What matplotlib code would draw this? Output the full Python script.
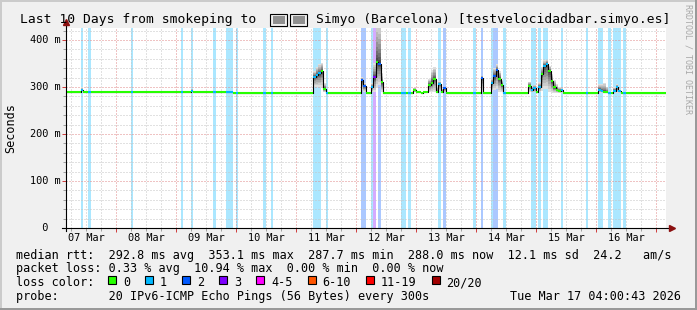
import numpy as np
import matplotlib
matplotlib.use('Agg')
import matplotlib.pyplot as plt
import matplotlib.dates as mdates
from matplotlib.patches import Rectangle

# hourly values, 240 hours starting Mar 07 04:00, one row per day
median_ms = [
    289, 289, 289, 289, 289, 289, 293, 289, 289, 289, 289, 289, 289, 289, 289, 289, 289, 289, 289, 289, 289, 289, 289, 289,
    289, 289, 289, 289, 289, 289, 289, 289, 289, 289, 289, 289, 289, 289, 289, 289, 289, 289, 289, 289, 289, 289, 289, 289,
    289, 289, 292, 289, 289, 289, 289, 289, 289, 289, 289, 289, 289, 289, 289, 289, 289, 289, 289, 288, 288, 288, 288, 288,
    288, 288, 288, 288, 288, 288, 288, 288, 288, 288, 288, 288, 288, 288, 288, 288, 288, 288, 288, 288, 288, 288, 288, 288,
    288, 288, 288, 322, 326, 329, 334, 296, 288, 288, 288, 288, 288, 288, 288, 288, 288, 288, 288, 288, 288, 288, 315, 302,
    288, 288, 300, 321, 353, 349, 310, 288, 288, 288, 288, 288, 288, 288, 288, 288, 288, 288, 288, 294, 289, 290, 288, 289,
    290, 305, 309, 318, 290, 307, 290, 297, 288, 288, 288, 288, 288, 288, 288, 288, 288, 288, 288, 288, 288, 288, 320, 288,
    288, 288, 308, 323, 336, 318, 305, 288, 288, 288, 288, 288, 288, 288, 288, 288, 288, 303, 294, 297, 289, 300, 327, 345,
    350, 333, 312, 299, 294, 292, 293, 288, 288, 288, 288, 288, 288, 288, 288, 288, 288, 288, 288, 288, 288, 294, 291, 290,
    289, 288, 288, 292, 300, 291, 288, 288, 288, 288, 288, 288, 288, 288, 288, 288, 288, 288, 288, 288, 288, 288, 288, 288,
]

# average lost pings (of 20) per hour
loss_pings = [
    0, 0, 0, 0, 0, 0, 0.17, 0, 0, 0.08, 0, 0, 0, 0, 0, 0, 0, 0, 0, 0, 0, 0, 0, 0,
    0, 0, 0.08, 0, 0, 0, 0, 0, 0, 0, 0, 0, 0, 0, 0, 0, 0, 0, 0, 0, 0, 0, 0.08, 0,
    0, 0, 0.17, 0, 0, 0, 0, 0, 0, 0, 0, 0.08, 0, 0, 0, 0, 0.25, 0.33, 0.17, 0, 0.08, 0, 0, 0,
    0, 0, 0, 0, 0, 0, 0, 0.08, 0, 0, 0.08, 0, 0, 0, 0, 0, 0, 0, 0, 0, 0, 0, 0, 0,
    0, 0, 0, 0.17, 0.25, 0.17, 0, 0, 0.08, 0, 0, 0, 0, 0, 0, 0, 0, 0, 0, 0, 0, 0, 1.17, 1.08,
    0, 0, 0.25, 2.19, 0, 1.33, 0, 0, 0, 0, 0, 0, 0, 0, 0.17, 0.08, 0, 0.08, 0, 0, 0, 0, 0, 0,
    0, 0, 0, 0, 0, 0.17, 0, 1.08, 0, 0, 0, 0, 0, 0, 0, 0, 0, 0, 0, 0.08, 0, 0, 1.17, 0,
    0, 0, 0.25, 1.25, 1.17, 0, 0, 0.08, 0, 0, 0, 0, 0, 0, 0, 0, 0, 0, 0.17, 0.08, 0, 0.17, 0, 0.25,
    0.17, 0, 0, 0, 0, 0, 0.08, 0, 0, 0, 0, 0, 0, 0, 0, 0, 0.08, 0, 0, 0, 0, 0.17, 0.08, 0,
    0, 0.08, 0, 0.17, 0.25, 0.08, 0, 0.08, 0, 0, 0, 0, 0, 0, 0, 0, 0, 0, 0, 0, 0, 0, 0, 0,
]

# spread of the pings above / below the median (ms)
smoke_up = [
    2, 2, 2, 2, 2, 2, 6, 2, 2, 2, 2, 2, 2, 2, 2, 2, 2, 2, 2, 2, 2, 2, 2, 2,
    2, 2, 2, 2, 2, 2, 2, 2, 2, 2, 2, 2, 2, 2, 2, 2, 2, 2, 2, 2, 2, 2, 2, 2,
    2, 2, 4, 2, 2, 2, 2, 2, 2, 2, 2, 2, 2, 2, 2, 2, 2, 2, 2, 2, 2, 2, 2, 2,
    2, 2, 2, 2, 2, 2, 2, 2, 2, 2, 2, 2, 2, 2, 2, 2, 2, 2, 2, 2, 2, 2, 2, 2,
    2, 2, 2, 12, 16, 20, 18, 12, 2, 2, 2, 2, 2, 2, 2, 2, 2, 2, 2, 2, 2, 2, 6, 6,
    2, 2, 8, 30, 90, 90, 20, 2, 2, 2, 2, 2, 2, 2, 2, 2, 2, 2, 2, 4, 2, 2, 2, 2,
    2, 12, 28, 24, 10, 5, 6, 4, 2, 2, 2, 2, 2, 2, 2, 2, 2, 2, 2, 2, 2, 2, 4, 2,
    2, 2, 10, 18, 13, 15, 10, 2, 2, 2, 2, 2, 2, 2, 2, 2, 2, 8, 8, 8, 2, 10, 15, 12,
    8, 12, 15, 15, 12, 8, 5, 2, 2, 2, 2, 2, 2, 2, 2, 2, 2, 2, 2, 2, 2, 12, 16, 18,
    12, 2, 2, 8, 6, 4, 2, 2, 2, 2, 2, 2, 2, 2, 2, 2, 2, 2, 2, 2, 2, 2, 2, 2,
]
smoke_dn = [
    1, 1, 1, 1, 1, 1, 3, 1, 1, 1, 1, 1, 1, 1, 1, 1, 1, 1, 1, 1, 1, 1, 1, 1,
    1, 1, 1, 1, 1, 1, 1, 1, 1, 1, 1, 1, 1, 1, 1, 1, 1, 1, 1, 1, 1, 1, 1, 1,
    1, 1, 2, 1, 1, 1, 1, 1, 1, 1, 1, 1, 1, 1, 1, 1, 1, 1, 1, 1, 1, 1, 1, 1,
    1, 1, 1, 1, 1, 1, 1, 1, 1, 1, 1, 1, 1, 1, 1, 1, 1, 1, 1, 1, 1, 1, 1, 1,
    1, 1, 1, 22, 26, 30, 34, 7, 1, 1, 1, 1, 1, 1, 1, 1, 1, 1, 1, 1, 1, 1, 22, 12,
    1, 1, 11, 32, 55, 45, 20, 1, 1, 1, 1, 1, 1, 1, 1, 1, 1, 1, 1, 5, 1, 1, 1, 1,
    1, 16, 20, 28, 2, 16, 2, 8, 1, 1, 1, 1, 1, 1, 1, 1, 1, 1, 1, 1, 1, 1, 30, 1,
    1, 1, 18, 30, 40, 28, 16, 1, 1, 1, 1, 1, 1, 1, 1, 1, 1, 14, 5, 8, 1, 11, 35, 50,
    55, 44, 24, 11, 6, 4, 5, 1, 1, 1, 1, 1, 1, 1, 1, 1, 1, 1, 1, 1, 1, 6, 3, 2,
    1, 1, 1, 4, 12, 3, 1, 1, 1, 1, 1, 1, 1, 1, 1, 1, 1, 1, 1, 1, 1, 1, 1, 1,
]

day_labels = ['07 Mar', '08 Mar', '09 Mar', '10 Mar', '11 Mar',
              '12 Mar', '13 Mar', '14 Mar', '15 Mar', '16 Mar']
y_vals = [0, 100, 200, 300, 400]
y_labels = ['  0', '100 m', '200 m', '300 m', '400 m']

loss_names = ['0', '1', '2', '3', '4-5', '6-10', '11-19', '20/20']
loss_colors = ['#26ff00', '#00b8ff', '#0059ff', '#7e00ff',
               '#ff00ff', '#ff5500', '#ff0000', '#a10000']
loss_upper = [0, 1, 2, 3, 5, 10, 19, 20]

# the flag between the two parts has no glyph in any installed font
title_left = 'Last 10 Days from smokeping to'
title_right = 'Simyo (Barcelona) [testvelocidadbar.simyo.es]'
row_rtt = ('median rtt:  292.8 ms avg  353.1 ms max  287.7 ms min  '
           '288.0 ms now  12.1 ms sd  24.2   am/s')
row_loss = 'packet loss: 0.33 % avg  10.94 % max  0.00 % min  0.00 % now'
row_probe = 'probe:       20 IPv6-ICMP Echo Pings (56 Bytes) every 300s'
stamp = 'Tue Mar 17 04:00:43 2026'

W, H = 697, 310
plt.rcParams['font.family'] = 'DejaVu Sans Mono'

med = np.array(median_ms, float)
loss = np.array(loss_pings, float)
up = np.array(smoke_up, float)
dn = np.array(smoke_dn, float)
cls = np.searchsorted(loss_upper, loss)

t = np.datetime64('2026-03-07T04:00') + np.arange(len(med) + 1) * np.timedelta64(1, 'h')
tn = mdates.date2num(t)


def ext(a):
    return np.append(a, a[-1])


def px(x, y):
    return x / W, 1 - y / H


fig = plt.figure(figsize=(W / 100, H / 100), dpi=100, facecolor='#f0f0f0')
ax = fig.add_axes([66 / W, 1 - 228 / H, 600 / W, 200 / H])
ax.set_facecolor('white')
ax.set_xlim(tn[0], tn[-1])
ax.set_ylim(0, 200 / 0.47)

# loss bars
for h in np.nonzero(cls)[0]:
    ax.axvspan(tn[h], tn[h + 1], color=loss_colors[cls[h]], alpha=0.33, lw=0, zorder=1)

# smoke
for k in range(10):
    f = ((10 - k) / 10) ** 1.5
    g = 0.87 - 0.65 * k / 9
    ax.fill_between(tn, ext(med - f * dn), ext(med + f * up), step='post',
                    color=(g, g, g), lw=0, zorder=2)

# median line, coloured by loss
ax.step(tn, ext(med), where='post', color='black', lw=0.8, zorder=3)
ax.hlines(med, tn[:-1], tn[1:], colors=[loss_colors[c] for c in cls], lw=1.5, zorder=4)

# grid
midnights = mdates.date2num(np.arange(np.datetime64('2026-03-08'), np.datetime64('2026-03-18'),
                                      np.timedelta64(1, 'D')))
six_h = mdates.date2num(np.arange(np.datetime64('2026-03-07T06', 'h'), np.datetime64('2026-03-17T04', 'h'),
                                  np.timedelta64(6, 'h')))
ax.set_xticks(midnights)
ax.set_xticks(six_h, minor=True)
ax.set_yticks(y_vals)
ax.set_yticks(np.arange(0, 421, 20), minor=True)
ax.set_axisbelow('line')
ax.grid(which='minor', color='#c4c4c4', lw=0.72, ls=(0, (1, 2)))
ax.grid(which='major', color='#e08888', lw=0.72, ls=(0, (1, 2)))
ax.tick_params(labelbottom=False, labelleft=False)
ax.tick_params(which='major', length=3, width=0.72, color='#d04040')
ax.tick_params(which='minor', length=2, width=0.72, color='#a0a0a0')
for s in ax.spines.values():
    s.set_visible(False)

# axes with arrows
ax.plot([0, 0], [-0.015, 1.03], transform=ax.transAxes, color='black', lw=0.8,
        clip_on=False, zorder=6)
ax.plot([-0.006, 1.008], [0, 0], transform=ax.transAxes, color='black', lw=0.8,
        clip_on=False, zorder=6)
ax.plot([0], [1.03], marker='^', ms=5, color='#8b1010', transform=ax.transAxes,
        clip_on=False, zorder=7)
ax.plot([1.01], [0], marker='>', ms=5, color='#8b1010', transform=ax.transAxes,
        clip_on=False, zorder=7)

# axis labels
noons = mdates.date2num(np.arange(np.datetime64('2026-03-07T12', 'h'), np.datetime64('2026-03-17T00', 'h'),
                                  np.timedelta64(24, 'h')))
for x, lab in zip(noons, day_labels):
    ax.text(x, -13 / 200, lab, transform=ax.get_xaxis_transform(), ha='center',
            va='baseline', fontsize=7.4)
for v, lab in zip(y_vals, y_labels):
    ax.text(-36 / 600, v, lab, transform=ax.get_yaxis_transform(), ha='left',
            va='center', fontsize=7.4)
fig.text(*px(11, 128), 'Seconds', rotation=90, ha='center', va='center', fontsize=8.5)

# title, flag drawn as two missing-glyph boxes like the reference
fig.text(*px(20, 23.5), title_left, ha='left', va='baseline', fontsize=9.4)
fig.text(*px(316, 23.5), title_right, ha='left', va='baseline', fontsize=9.4)
for bx0 in (270, 290):
    fig.add_artist(Rectangle(px(bx0, 25.5), 17 / W, 12 / H, transform=fig.transFigure,
                             facecolor='none', edgecolor='black', lw=0.8))
    fig.add_artist(Rectangle(px(bx0 + 2.5, 23.5), 12 / W, 8 / H, transform=fig.transFigure,
                             facecolor='#909090', edgecolor='none', lw=0))
fig.text(*px(688, 4), 'RRDTOOL / TOBI OETIKER', rotation=270, ha='center', va='top',
         fontsize=6, color='#a8a8a8')

# legend
fig.text(*px(15.5, 258.5), row_rtt, ha='left', va='baseline', fontsize=8.5)
fig.text(*px(15.5, 272.3), row_loss, ha='left', va='baseline', fontsize=8.5)
fig.text(*px(15.5, 286), 'loss color:', ha='left', va='baseline', fontsize=8.5)
fig.text(*px(15.5, 300), row_probe, ha='left', va='baseline', fontsize=8.5)
fig.text(*px(681, 300), stamp, ha='right', va='baseline', fontsize=8.5)

bx = 108.0
for name, col in zip(loss_names, loss_colors):
    fig.add_artist(Rectangle(px(bx, 284), 8 / W, 8 / H, transform=fig.transFigure,
                             facecolor=col, edgecolor='black', lw=0.8))
    fig.text(*px(bx + 15, 286), name, ha='left', va='baseline', fontsize=8.5)
    bx += 30 + 7.1 * len(name)

# 3d frame
fig.add_artist(Rectangle((0, 1 - 2 / H), 1, 2 / H, transform=fig.transFigure, color='#cbcbcb', lw=0))
fig.add_artist(Rectangle((0, 0), 2 / W, 1, transform=fig.transFigure, color='#cbcbcb', lw=0))
fig.add_artist(Rectangle((0, 0), 1, 2 / H, transform=fig.transFigure, color='#999999', lw=0))
fig.add_artist(Rectangle((1 - 2 / W, 0), 2 / W, 1, transform=fig.transFigure, color='#999999', lw=0))

fig.savefig('out.png', dpi=100, facecolor=fig.get_facecolor())
